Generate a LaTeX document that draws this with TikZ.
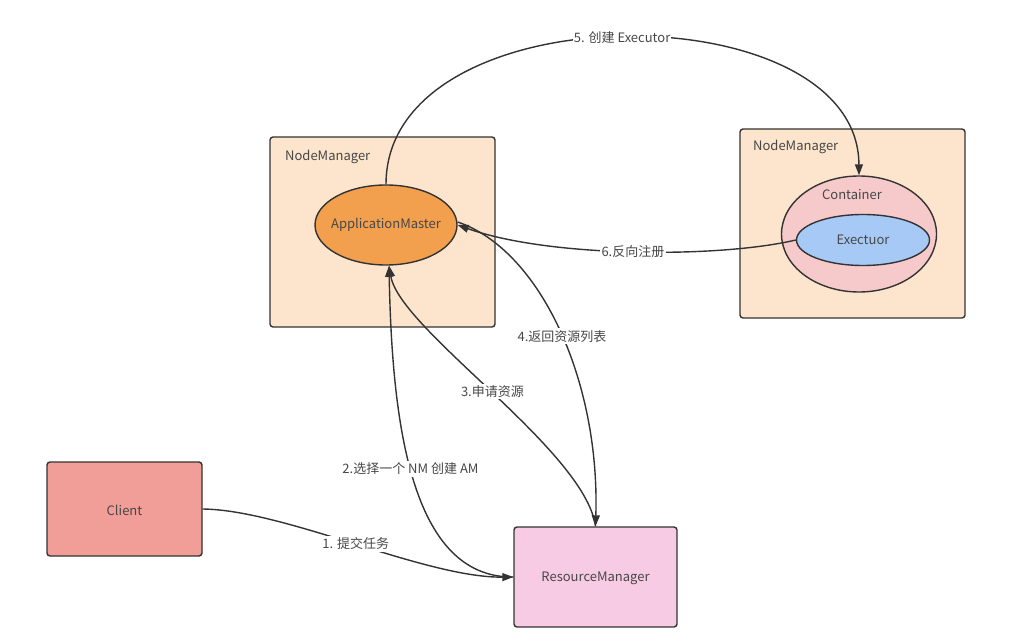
\documentclass[tikz,border=0pt]{standalone}
\usepackage{fontspec}
\setmainfont{Noto Sans CJK SC}
\usetikzlibrary{arrows.meta,shapes.geometric}
\definecolor{nmfill}{HTML}{FCE5CC}
\definecolor{amfill}{HTML}{F2A04E}
\definecolor{ctfill}{HTML}{F6CACB}
\definecolor{exfill}{HTML}{A6C9F5}
\definecolor{clfill}{HTML}{F29E98}
\definecolor{rmfill}{HTML}{F7CBE4}
\definecolor{edge}{HTML}{333333}
\definecolor{txt}{HTML}{474747}
\tikzset{
  box/.style={draw=edge,line width=1.4pt,rounded corners=3pt,inner sep=0pt},
  ell/.style={draw=edge,line width=1.4pt,ellipse,inner sep=0pt},
  arr/.style={draw=edge,line width=1.4pt,-{Triangle[length=11pt,width=8pt]}},
  lbl/.style={fill=white,text=txt,font=\fontsize{13}{15}\selectfont,inner sep=2pt},
  tx/.style={text=txt,font=\fontsize{13}{15}\selectfont,inner sep=0pt}
}
\begin{document}
\begin{tikzpicture}[x=1pt,y=-1pt]
\useasboundingbox (0,0) rectangle (1025,644);
% boxes
\node[box,fill=nmfill,minimum width=225pt,minimum height=190pt] (nm1) at (382.5,232) {};
\node[tx,anchor=west] (nm1t) at (285,157) {NodeManager};
\node[box,fill=nmfill,minimum width=225pt,minimum height=189pt] (nm2) at (852.5,223.5) {};
\node[tx,anchor=west] (nm2t) at (753,147) {NodeManager};
\node[ell,fill=amfill,minimum width=142pt,minimum height=80pt] (am) at (386,225) {};
\node[tx] (amt) at (386,225) {ApplicationMaster};
\node[ell,fill=ctfill,minimum width=155pt,minimum height=116pt] (ct) at (859,234) {};
\node[tx] (ctt) at (852,195) {Container};
\node[ell,fill=exfill,minimum width=133pt,minimum height=51pt] (ex) at (863,240) {};
\node[tx] (ext) at (863,240) {Exectuor};
\node[box,fill=clfill,minimum width=155pt,minimum height=94pt] (cl) at (124.5,509) {};
\node[tx] (clt) at (124.5,510) {Client};
\node[box,fill=rmfill,minimum width=163pt,minimum height=100pt] (rm) at (595.5,577) {};
\node[tx] (rmt) at (595.5,578) {ResourceManager};
% connectors
\draw[arr] (cl.east) .. controls (285,510) and (425,578) .. (rm.west)
  node[lbl,pos=0.5] {1. 提交任务};
\draw[arr] (rm.west) .. controls (410,578) and (392,420) .. ([xshift=3pt]am.south)
  node[lbl,pos=0.53] {2.选择一个 NM 创建 AM};
\draw[arr] (rm.north) .. controls (585,450) and (400,330) .. ([xshift=3pt]am.south)
  node[lbl,pos=0.5] {3.申请资源};
\draw[arr] ([yshift=3pt]am.east) .. controls (540,250) and (600,380) .. (rm.north)
  node[lbl,pos=0.52] {4.返回资源列表};
\draw[arr] (am.north) .. controls (386,-10) and (858,-10) .. (ct.north)
  node[lbl,pos=0.5,inner sep=1pt] {5. 创建 Executor};
\draw[arr] (ex.west) .. controls (720,258) and (550,258) .. (am.east)
  node[lbl,pos=0.5] {6.反向注册};
\end{tikzpicture}
\end{document}
